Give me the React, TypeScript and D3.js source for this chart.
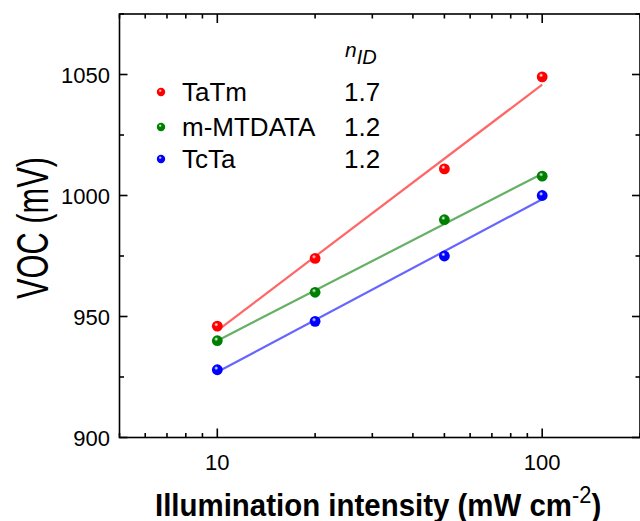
import React from "react";
import * as d3 from "d3";

const intensities = [10, 20, 50, 100];
const tatmVoc = [946, 974, 1011, 1049];
const mmtdataVoc = [940, 960, 990, 1008];
const tctaVoc = [928, 948, 975, 1000];
const seriesNames = ["TaTm", "m-MTDATA", "TcTa"];
const nIdValues = ["1.7", "1.2", "1.2"];
const seriesColors = ["#ff0000", "#008000", "#0000ff"];
const lineColors = ["#ff6666", "#66b066", "#6666ff"];
const yMajorTicks = [900, 950, 1000, 1050];
const yMinorTicks = [925, 975, 1025, 1075];
const xMajorTicks = [10, 100];
const xMinorTicks = [5, 6, 7, 8, 9, 20, 30, 40, 50, 60, 70, 80, 90, 200];

const W = 640;
const H = 521;
const left = 119.5;
const right = 640;
const top = 14;
const bottom = 437.5;

const FONT = "'Liberation Sans', Arial, sans-serif";

export default function App() {
  const x = d3.scaleLog().domain([5, 200]).range([left, right]);
  const y = d3.scaleLinear().domain([900, 1075]).range([bottom, top]);

  const series = [tatmVoc, mmtdataVoc, tctaVoc];

  const fits = series.map((vals) => {
    const lx = intensities.map((v) => Math.log10(v));
    const mx = d3.mean(lx) as number;
    const my = d3.mean(vals) as number;
    let sxy = 0;
    let sxx = 0;
    lx.forEach((v, i) => {
      sxy += (v - mx) * (vals[i] - my);
      sxx += (v - mx) * (v - mx);
    });
    const slope = sxy / sxx;
    const icpt = my - slope * mx;
    const x0 = intensities[0];
    const x1 = intensities[intensities.length - 1];
    return [
      [x0, icpt + slope * Math.log10(x0)],
      [x1, icpt + slope * Math.log10(x1)],
    ] as [number, number][];
  });

  const line = d3
    .line<[number, number]>()
    .x((d) => x(d[0]))
    .y((d) => y(d[1]));

  const majX = 9;
  const minX = 4.5;
  const majY = 8;
  const minY = 4.5;
  const axisColor = "#000";
  const sw = 1.6;

  const legendY = [92, 127, 159];

  return (
    <svg
      width={W}
      height={H}
      style={{ position: "absolute", left: 0, top: 0, background: "#fff" }}
    >
      <defs>
        {seriesColors.map((c, i) => (
          <radialGradient key={i} id={`g${i}`} cx="0.4" cy="0.35" r="0.65">
            <stop offset="0" stopColor="#ffffff" stopOpacity="0.8" />
            <stop offset="0.3" stopColor={c} />
            <stop offset="1" stopColor={c} />
          </radialGradient>
        ))}
      </defs>

      {/* fit lines */}
      {fits.map((f, i) => (
        <path
          key={i}
          d={line(f) as string}
          fill="none"
          stroke={lineColors[i]}
          strokeWidth={2.2}
        />
      ))}

      {/* data points */}
      {series.map((vals, si) =>
        vals.map((v, i) => (
          <circle
            key={`${si}-${i}`}
            cx={x(intensities[i])}
            cy={y(v)}
            r={5.4}
            fill={`url(#g${si})`}
          />
        ))
      )}

      {/* frame */}
      <rect
        x={left}
        y={top}
        width={right - left}
        height={bottom - top}
        fill="none"
        stroke={axisColor}
        strokeWidth={sw}
      />

      {/* x ticks bottom and top */}
      {xMajorTicks.map((t) => (
        <g key={`xm${t}`}>
          <line x1={x(t)} x2={x(t)} y1={bottom} y2={bottom - majX} stroke={axisColor} strokeWidth={sw} />
          <line x1={x(t)} x2={x(t)} y1={top} y2={top + majX} stroke={axisColor} strokeWidth={sw} />
          <text x={x(t)} y={470} textAnchor="middle" fontFamily={FONT} fontSize={22} fill="#000">
            {t}
          </text>
        </g>
      ))}
      {xMinorTicks.map((t) => (
        <g key={`xn${t}`}>
          <line x1={x(t)} x2={x(t)} y1={bottom} y2={bottom - minX} stroke={axisColor} strokeWidth={sw} />
          <line x1={x(t)} x2={x(t)} y1={top} y2={top + minX} stroke={axisColor} strokeWidth={sw} />
        </g>
      ))}

      {/* y ticks left and right */}
      {yMajorTicks.map((t) => (
        <g key={`ym${t}`}>
          <line x1={left} x2={left + majY} y1={y(t)} y2={y(t)} stroke={axisColor} strokeWidth={sw} />
          <line x1={right} x2={right - majY} y1={y(t)} y2={y(t)} stroke={axisColor} strokeWidth={sw} />
          <text x={110} y={y(t) + 8} textAnchor="end" fontFamily={FONT} fontSize={22} fill="#000">
            {t}
          </text>
        </g>
      ))}
      {yMinorTicks.map((t) => (
        <g key={`yn${t}`}>
          <line x1={left} x2={left + minY} y1={y(t)} y2={y(t)} stroke={axisColor} strokeWidth={sw} />
          <line x1={right} x2={right - minY} y1={y(t)} y2={y(t)} stroke={axisColor} strokeWidth={sw} />
        </g>
      ))}

      {/* axis titles */}
      <g transform="translate(155,516) scale(0.95,1)">
        <text x={0} y={0} fontFamily={FONT} fontSize={31} fontWeight="bold" fill="#000">
          Illumination intensity (mW cm
          <tspan fontSize={23} fontWeight="normal" dy={-13}>-2</tspan>
          <tspan dy={13}>)</tspan>
        </text>
      </g>
      <text
        transform={`translate(48,228) rotate(-90) scale(0.7,1)`}
        textAnchor="middle"
        fontFamily={FONT}
        fontSize={44}
        fill="#000"
      >
        VOC (mV)
      </text>

      {/* legend */}
      <text x={345} y={57} fontFamily={FONT} fontSize={21} fontStyle="italic" fill="#000">
        n
        <tspan fontSize={20} dy={6.5}>ID</tspan>
      </text>
      {seriesNames.map((name, i) => (
        <g key={name}>
          <circle cx={161} cy={legendY[i]} r={4.2} fill={`url(#g${i})`} />
          <text x={182} y={legendY[i] + 9} fontFamily={FONT} fontSize={26} fill="#000">
            {name}
          </text>
          <text x={344} y={legendY[i] + 9} fontFamily={FONT} fontSize={26} fill="#000">
            {nIdValues[i]}
          </text>
        </g>
      ))}
    </svg>
  );
}
